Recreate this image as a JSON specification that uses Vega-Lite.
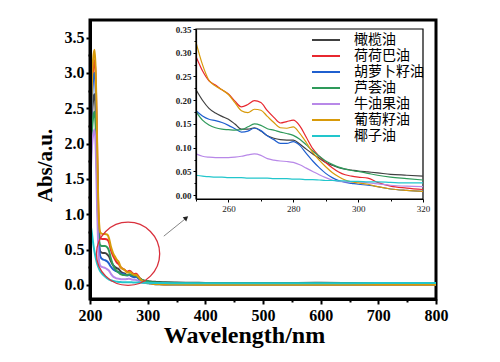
{
  "$schema": "https://vega.github.io/schema/vega-lite/v6.json",
  "width": 346,
  "height": 279,
  "autosize": {"type": "none"},
  "padding": {"left": 90, "top": 20, "right": 64, "bottom": 63},
  "background": "white",
  "config": {"view": {"stroke": "black", "strokeWidth": 3}, "font": "Liberation Serif",
    "axis": {"labelOverlap": false}},
  "datasets": {
    "spec": [
      {"w":200,"橄榄油":1.5,"荷荷巴油":1.7,"胡萝卜籽油":1.6,"芦荟油":1.4,"牛油果油":1.2,"葡萄籽油":1.8,"椰子油":0.9},
      {"w":203,"橄榄油":2.3,"荷荷巴油":2.7,"胡萝卜籽油":2.5,"芦荟油":2.1,"牛油果油":1.9,"葡萄籽油":2.8,"椰子油":0.75},
      {"w":206,"橄榄油":2.65,"荷荷巴油":3.1,"胡萝卜籽油":2.95,"芦荟油":2.4,"牛油果油":2.15,"葡萄籽油":3.25,"椰子油":0.56},
      {"w":208,"橄榄油":2.7,"荷荷巴油":3.18,"胡萝卜籽油":3.0,"芦荟油":2.45,"牛油果油":2.2,"葡萄籽油":3.33,"椰子油":0.46},
      {"w":210,"橄榄油":2.4,"荷荷巴油":2.9,"胡萝卜籽油":2.7,"芦荟油":2.2,"牛油果油":1.9,"葡萄籽油":3.0,"椰子油":0.38},
      {"w":212,"橄榄油":1.7,"荷荷巴油":2.1,"胡萝卜籽油":1.9,"芦荟油":1.6,"牛油果油":1.2,"葡萄籽油":2.2,"椰子油":0.31},
      {"w":214,"橄榄油":0.95,"荷荷巴油":1.2,"胡萝卜籽油":1.0,"芦荟油":0.9,"牛油果油":0.6,"葡萄籽油":1.3,"椰子油":0.26},
      {"w":216,"橄榄油":0.55,"荷荷巴油":0.75,"胡萝卜籽油":0.55,"芦荟油":0.62,"牛油果油":0.32,"葡萄籽油":0.85,"椰子油":0.22},
      {"w":218,"橄榄油":0.47,"荷荷巴油":0.66,"胡萝卜籽油":0.4,"芦荟油":0.56,"牛油果油":0.27,"葡萄籽油":0.74,"椰子油":0.19},
      {"w":222,"橄榄油":0.45,"荷荷巴油":0.65,"胡萝卜籽油":0.36,"芦荟油":0.55,"牛油果油":0.25,"葡萄籽油":0.72,"椰子油":0.15},
      {"w":226,"橄榄油":0.45,"荷荷巴油":0.65,"胡萝卜籽油":0.35,"芦荟油":0.55,"牛油果油":0.24,"葡萄籽油":0.72,"椰子油":0.12},
      {"w":230,"橄榄油":0.43,"荷荷巴油":0.64,"胡萝卜籽油":0.33,"芦荟油":0.53,"牛油果油":0.22,"葡萄籽油":0.71,"椰子油":0.09},
      {"w":233,"橄榄油":0.4,"荷荷巴油":0.6,"胡萝卜籽油":0.3,"芦荟油":0.48,"牛油果油":0.2,"葡萄籽油":0.66,"椰子油":0.075},
      {"w":236,"橄榄油":0.34,"荷荷巴油":0.5,"胡萝卜籽油":0.26,"芦荟油":0.38,"牛油果油":0.16,"葡萄籽油":0.55,"椰子油":0.065},
      {"w":240,"橄榄油":0.28,"荷荷巴油":0.41,"胡萝卜籽油":0.22,"芦荟油":0.28,"牛油果油":0.12,"葡萄籽油":0.45,"椰子油":0.055},
      {"w":244,"橄榄油":0.25,"荷荷巴油":0.35,"胡萝卜籽油":0.2,"芦荟油":0.22,"牛油果油":0.1,"葡萄籽油":0.39,"椰子油":0.048},
      {"w":247,"橄榄油":0.235,"荷荷巴油":0.31,"胡萝卜籽油":0.19,"芦荟油":0.19,"牛油果油":0.09,"葡萄籽油":0.35,"椰子油":0.045},
      {"w":250,"橄榄油":0.222,"荷荷巴油":0.292,"胡萝卜籽油":0.178,"芦荟油":0.176,"牛油果油":0.087,"葡萄籽油":0.322,"椰子油":0.042},
      {"w":252,"橄榄油":0.2,"荷荷巴油":0.262,"胡萝卜籽油":0.167,"芦荟油":0.158,"牛油果油":0.082,"葡萄籽油":0.275,"椰子油":0.04},
      {"w":254,"橄榄油":0.183,"荷荷巴油":0.241,"胡萝卜籽油":0.16,"芦荟油":0.148,"牛油果油":0.08,"葡萄籽油":0.242,"椰子油":0.039},
      {"w":256,"橄榄油":0.173,"荷荷巴油":0.232,"胡萝卜籽油":0.157,"芦荟油":0.142,"牛油果油":0.079,"葡萄籽油":0.23,"椰子油":0.038},
      {"w":258,"橄榄油":0.166,"荷荷巴油":0.222,"胡萝卜籽油":0.153,"芦荟油":0.139,"牛油果油":0.079,"葡萄籽油":0.222,"椰子油":0.038},
      {"w":260,"橄榄油":0.16,"荷荷巴油":0.213,"胡萝卜籽油":0.147,"芦荟油":0.138,"牛油果油":0.079,"葡萄籽油":0.212,"椰子油":0.037},
      {"w":262,"橄榄油":0.15,"荷荷巴油":0.198,"胡萝卜籽油":0.14,"芦荟油":0.137,"牛油果油":0.08,"葡萄籽油":0.195,"椰子油":0.037},
      {"w":264,"橄榄油":0.139,"荷荷巴油":0.186,"胡萝卜籽油":0.133,"芦荟油":0.138,"牛油果油":0.082,"葡萄籽油":0.178,"椰子油":0.037},
      {"w":266,"橄榄油":0.139,"荷荷巴油":0.191,"胡萝卜籽油":0.135,"芦荟油":0.144,"牛油果油":0.085,"葡萄籽油":0.174,"椰子油":0.036},
      {"w":268,"橄榄油":0.142,"荷荷巴油":0.199,"胡萝卜籽油":0.141,"芦荟油":0.15,"牛油果油":0.087,"葡萄籽油":0.181,"椰子油":0.036},
      {"w":270,"橄榄油":0.135,"荷荷巴油":0.195,"胡萝卜籽油":0.136,"芦荟油":0.147,"牛油果油":0.084,"葡萄籽油":0.179,"椰子油":0.036},
      {"w":272,"橄榄油":0.125,"荷荷巴油":0.178,"胡萝卜籽油":0.125,"芦荟油":0.14,"牛油果油":0.077,"葡萄籽油":0.166,"椰子油":0.036},
      {"w":274,"橄榄油":0.12,"荷荷巴油":0.164,"胡萝卜籽油":0.117,"芦荟油":0.137,"牛油果油":0.074,"葡萄籽油":0.153,"椰子油":0.035},
      {"w":276,"橄榄油":0.117,"荷荷巴油":0.152,"胡萝卜籽油":0.109,"芦荟油":0.133,"牛油果油":0.072,"葡萄籽油":0.142,"椰子油":0.035},
      {"w":278,"橄榄油":0.116,"荷荷巴油":0.155,"胡萝卜籽油":0.109,"芦荟油":0.13,"牛油果油":0.071,"葡萄籽油":0.141,"椰子油":0.035},
      {"w":280,"橄榄油":0.116,"荷荷巴油":0.158,"胡萝卜籽油":0.113,"芦荟油":0.126,"牛油果油":0.069,"葡萄籽油":0.144,"椰子油":0.034},
      {"w":282,"橄榄油":0.108,"荷荷巴油":0.146,"胡萝卜籽油":0.105,"芦荟油":0.118,"牛油果油":0.064,"葡萄籽油":0.13,"椰子油":0.034},
      {"w":284,"橄榄油":0.097,"荷荷巴油":0.122,"胡萝卜籽油":0.088,"芦荟油":0.106,"牛油果油":0.057,"葡萄籽油":0.111,"椰子油":0.033},
      {"w":286,"橄榄油":0.087,"荷荷巴油":0.098,"胡萝卜籽油":0.072,"芦荟油":0.093,"牛油果油":0.05,"葡萄籽油":0.09,"椰子油":0.033},
      {"w":288,"橄榄油":0.078,"荷荷巴油":0.082,"胡萝卜籽油":0.058,"芦荟油":0.082,"牛油果油":0.043,"葡萄籽油":0.074,"椰子油":0.032},
      {"w":290,"橄榄油":0.069,"荷荷巴油":0.069,"胡萝卜籽油":0.046,"芦荟油":0.072,"牛油果油":0.037,"葡萄籽油":0.06,"椰子油":0.031},
      {"w":292,"橄榄油":0.063,"荷荷巴油":0.058,"胡萝卜籽油":0.037,"芦荟油":0.065,"牛油果油":0.032,"葡萄籽油":0.048,"椰子油":0.031},
      {"w":294,"橄榄油":0.058,"荷荷巴油":0.049,"胡萝卜籽油":0.031,"芦荟油":0.059,"牛油果油":0.029,"葡萄籽油":0.039,"椰子油":0.03},
      {"w":296,"橄榄油":0.055,"荷荷巴油":0.043,"胡萝卜籽油":0.027,"芦荟油":0.055,"牛油果油":0.028,"葡萄籽油":0.032,"椰子油":0.03},
      {"w":298,"橄榄油":0.053,"荷荷巴油":0.04,"胡萝卜籽油":0.025,"芦荟油":0.052,"牛油果油":0.028,"葡萄籽油":0.028,"椰子油":0.029},
      {"w":300,"橄榄油":0.051,"荷荷巴油":0.038,"胡萝卜籽油":0.023,"芦荟油":0.05,"牛油果油":0.028,"葡萄籽油":0.026,"椰子油":0.029},
      {"w":303,"橄榄油":0.049,"荷荷巴油":0.036,"胡萝卜籽油":0.021,"芦荟油":0.046,"牛油果油":0.026,"葡萄籽油":0.023,"椰子油":0.028},
      {"w":306,"橄榄油":0.047,"荷荷巴油":0.027,"胡萝卜籽油":0.018,"芦荟油":0.042,"牛油果油":0.024,"葡萄籽油":0.018,"椰子油":0.028},
      {"w":310,"橄榄油":0.044,"荷荷巴油":0.019,"胡萝卜籽油":0.013,"芦荟油":0.038,"牛油果油":0.021,"葡萄籽油":0.013,"椰子油":0.027},
      {"w":315,"橄榄油":0.042,"荷荷巴油":0.015,"胡萝卜籽油":0.01,"芦荟油":0.035,"牛油果油":0.019,"葡萄籽油":0.01,"椰子油":0.026},
      {"w":320,"橄榄油":0.04,"荷荷巴油":0.012,"胡萝卜籽油":0.008,"芦荟油":0.032,"牛油果油":0.018,"葡萄籽油":0.008,"椰子油":0.026},
      {"w":330,"橄榄油":0.036,"荷荷巴油":0.01,"胡萝卜籽油":0.006,"芦荟油":0.03,"牛油果油":0.016,"葡萄籽油":0.006,"椰子油":0.025},
      {"w":350,"橄榄油":0.032,"荷荷巴油":0.008,"胡萝卜籽油":0.005,"芦荟油":0.027,"牛油果油":0.014,"葡萄籽油":0.004,"椰子油":0.024},
      {"w":400,"橄榄油":0.028,"荷荷巴油":0.006,"胡萝卜籽油":0.004,"芦荟油":0.024,"牛油果油":0.012,"葡萄籽油":0.002,"椰子油":0.023},
      {"w":500,"橄榄油":0.025,"荷荷巴油":0.005,"胡萝卜籽油":0.003,"芦荟油":0.022,"牛油果油":0.01,"葡萄籽油":0.0,"椰子油":0.022},
      {"w":600,"橄榄油":0.03,"荷荷巴油":0.005,"胡萝卜籽油":0.003,"芦荟油":0.022,"牛油果油":0.009,"葡萄籽油":0.0,"椰子油":0.024},
      {"w":700,"橄榄油":0.022,"荷荷巴油":0.004,"胡萝卜籽油":0.003,"芦荟油":0.022,"牛油果油":0.009,"葡萄籽油":0.0,"椰子油":0.025},
      {"w":800,"橄榄油":0.02,"荷荷巴油":0.004,"胡萝卜籽油":0.003,"芦荟油":0.022,"牛油果油":0.009,"葡萄籽油":0.0,"椰子油":0.026}
    ]
  },
  "layer": [
    {
      "layer": [
        {
          "data": {"name": "spec"},
          "transform": [{"fold": ["橄榄油","荷荷巴油","胡萝卜籽油","芦荟油","牛油果油","葡萄籽油","椰子油"], "as": ["oil","a"]}],
          "mark": {"type": "line", "strokeWidth": 2, "interpolate": "monotone", "clip": true},
          "encoding": {
            "x": {"field": "w", "type": "quantitative",
              "scale": {"domain": [200, 800], "nice": false, "zero": false},
              "axis": {"values": [200,250,300,350,400,450,500,550,600,650,700,750,800], "tickCount": 100,
                "labelExpr": "datum.value % 100 === 0 ? datum.label : ''", "labelOverlap": false,
                "format": "d", "labelFlush": false, "labelFont": "Liberation Serif", "labelFontWeight": "bold",
                "labelFontSize": 16, "labelColor": "black", "labelPadding": 3,
                "tickColor": "black", "tickWidth": 2,
                "tickSize": {"condition": {"test": "datum.value % 100 === 0", "value": 5}, "value": 3},
                "domainColor": "black", "domainWidth": 3, "grid": false, "zindex": 1,
                "title": "Wavelength/nm", "titleFont": "Liberation Serif", "titleFontWeight": "bold",
                "titleFontSize": 24, "titleColor": "black", "titleX": 154, "titleY": 43,
                "titleBaseline": "alphabetic", "titleAlign": "center"}},
            "y": {"field": "a", "type": "quantitative",
              "scale": {"domain": [-0.2, 3.75], "nice": false, "zero": false},
              "axis": {"values": [0,0.25,0.5,0.75,1,1.25,1.5,1.75,2,2.25,2.5,2.75,3,3.25,3.5], "tickCount": 100,
                "labelExpr": "datum.value % 0.5 === 0 ? format(datum.value, '.1f') : ''", "labelOverlap": false,
                "labelFont": "Liberation Serif", "labelFontWeight": "bold",
                "labelFontSize": 16, "labelColor": "black", "labelPadding": 2,
                "tickColor": "black", "tickWidth": 2,
                "tickSize": {"condition": {"test": "datum.value % 0.5 === 0", "value": 4}, "value": 2},
                "domainColor": "black", "domainWidth": 3, "grid": false, "zindex": 1,
                "title": "Abs/a.u.", "titleFont": "Liberation Serif", "titleFontWeight": "bold",
                "titleFontSize": 21, "titleColor": "black", "titleX": -45, "titleY": 145,
                "titleAngle": -90, "titleAlign": "center", "titleBaseline": "middle"}},
            "color": {"field": "oil", "type": "nominal",
              "scale": {"domain": ["橄榄油","荷荷巴油","胡萝卜籽油","芦荟油","牛油果油","葡萄籽油","椰子油"],
                "range": ["#404040","#e8272f","#1f5fcf","#2e9a5a","#b888e8","#d89a0a","#22c6cc"]},
              "legend": {"orient": "none", "legendX": 229, "legendY": 13, "title": null,
                "symbolType": "M-4,0L4,0", "symbolStrokeWidth": 2, "symbolSize": 49,
                "labelFont": "Noto Sans CJK SC", "labelFontSize": 14, "labelColor": "black",
                "labelOffset": 21, "rowPadding": 2}}
          }
        },
        {
          "data": {"values": [{"w": 266, "a": 0.44}]},
          "mark": {"type": "point", "shape": "circle", "size": 4000, "filled": false, "stroke": "#d9303c", "strokeWidth": 1.3, "opacity": 1},
          "encoding": {"x": {"field": "w", "type": "quantitative"}, "y": {"field": "a", "type": "quantitative"}}
        },
        {
          "data": {"values": [{"w1": 328, "a1": 0.69, "w2": 366, "a2": 0.94}]},
          "mark": {"type": "rule", "color": "#666666", "strokeWidth": 0.8},
          "encoding": {"x": {"field": "w1", "type": "quantitative"}, "y": {"field": "a1", "type": "quantitative"},
            "x2": {"field": "w2"}, "y2": {"field": "a2"}}
        },
        {
          "data": {"values": [{"w2": 367, "a2": 0.95}]},
          "mark": {"type": "point", "shape": "triangle-up", "angle": 50, "size": 30, "filled": true, "color": "#222222", "opacity": 1},
          "encoding": {"x": {"field": "w2", "type": "quantitative"}, "y": {"field": "a2", "type": "quantitative"}}
        }
      ]
    },
    {
      "layer": [
        {
          "data": {"values": [{"x1": 250, "x2": 320, "y1": -0.008, "y2": 0.35}]},
          "mark": {"type": "rect", "fill": "white", "stroke": "black", "strokeWidth": 1.2},
          "encoding": {
            "x": {"field": "x1", "type": "quantitative",
              "scale": {"domain": [250, 320], "range": [106, 333], "nice": false, "zero": false},
              "axis": {"orient": "bottom", "offset": -100, "values": [250,260,270,280,290,300,310,320], "tickCount": 100,
                "labelExpr": "datum.value % 20 === 0 ? datum.label : ''", "format": "d", "labelOverlap": false,
                "labelFlush": false, "labelFont": "Liberation Serif", "labelFontSize": 9, "labelColor": "#222222",
                "labelPadding": 2, "tickColor": "black", "tickWidth": 1,
                "tickSize": {"condition": {"test": "datum.value % 20 === 0", "value": 3}, "value": 2},
                "domainColor": "black", "domainWidth": 1.2, "grid": false, "zindex": 1, "title": null}},
            "x2": {"field": "x2"},
            "y": {"field": "y1", "type": "quantitative",
              "scale": {"domain": [-0.008, 0.35], "range": [179, 9], "nice": false, "zero": false},
              "axis": {"orient": "left", "offset": -106, "values": [0,0.025,0.05,0.075,0.1,0.125,0.15,0.175,0.2,0.225,0.25,0.275,0.3,0.325,0.35], "tickCount": 100,
                "labelExpr": "round(datum.value*1000) % 50 === 0 ? format(datum.value, '.2f') : ''", "labelOverlap": false,
                "labelFont": "Liberation Serif", "labelFontSize": 9, "labelFontWeight": "bold", "labelColor": "#222222",
                "labelPadding": 2, "tickColor": "black", "tickWidth": 1,
                "tickSize": {"condition": {"test": "round(datum.value*1000) % 50 === 0", "value": 3}, "value": 2},
                "domainColor": "black", "domainWidth": 1.2, "grid": false, "zindex": 1, "title": null}},
            "y2": {"field": "y2"}
          }
        },
        {
          "data": {"name": "spec"},
          "transform": [
            {"filter": "datum.w >= 250 && datum.w <= 320"},
            {"fold": ["橄榄油","荷荷巴油","胡萝卜籽油","芦荟油","牛油果油","葡萄籽油","椰子油"], "as": ["oil","a"]}
          ],
          "mark": {"type": "line", "strokeWidth": 1.2, "interpolate": "monotone"},
          "encoding": {
            "x": {"field": "w", "type": "quantitative"},
            "y": {"field": "a", "type": "quantitative"},
            "color": {"field": "oil", "type": "nominal"}
          }
        }
      ]
    }
  ],
  "resolve": {"scale": {"x": "independent", "y": "independent"}, "axis": {"x": "independent", "y": "independent"}}
}
